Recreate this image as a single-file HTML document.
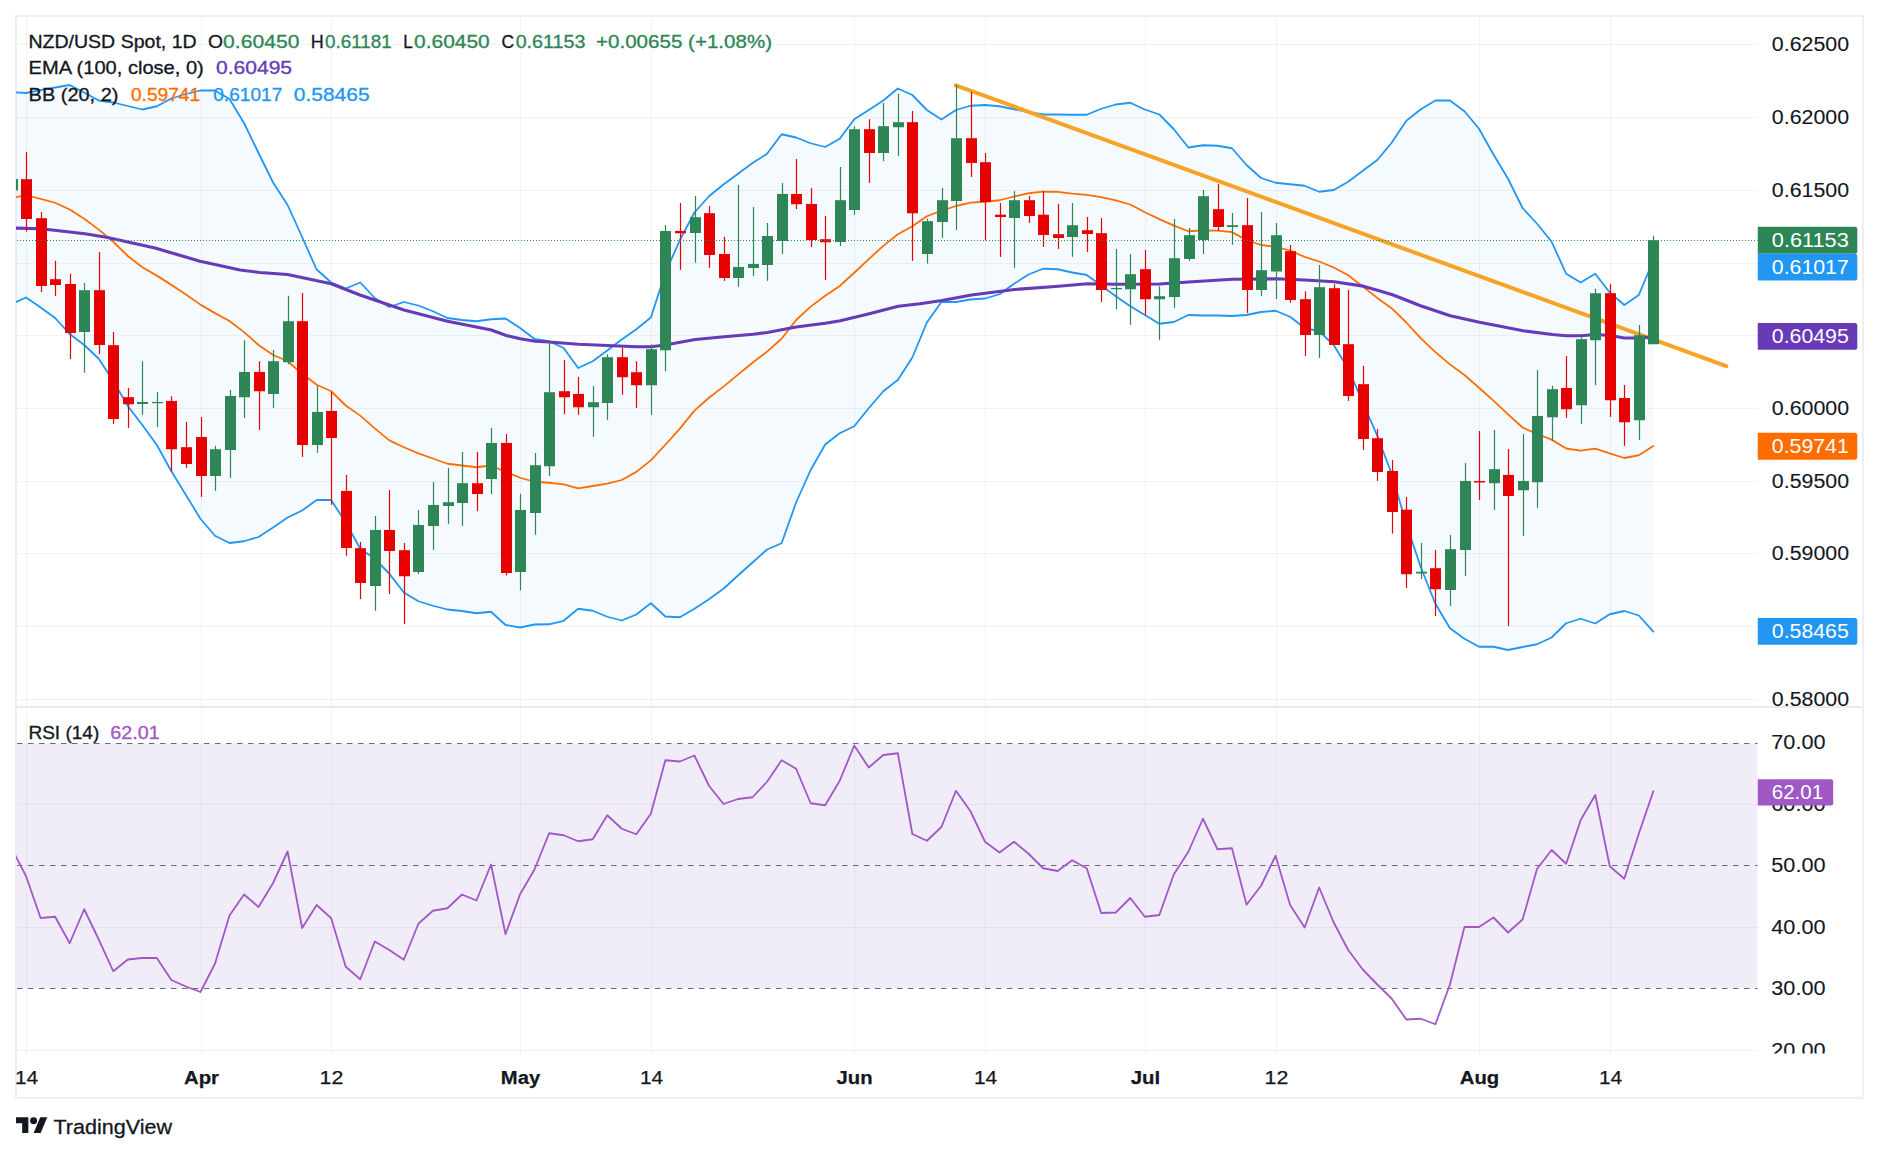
<!DOCTYPE html><html><head><meta charset="utf-8"><title>NZD/USD Spot 1D</title>
<style>html,body{margin:0;padding:0;background:#fff}body{width:1879px;height:1154px;overflow:hidden}svg{display:block}text{font-family:"Liberation Sans", Arial, sans-serif}</style></head><body>
<svg width="1879" height="1154" viewBox="0 0 1879 1154">
<rect width="1879" height="1154" fill="#fff"/>
<defs>
<clipPath id="cm"><rect x="16" y="17" width="1741.75" height="690"/></clipPath>
<clipPath id="cr"><rect x="16" y="707.75" width="1741.75" height="345.75"/></clipPath>
<clipPath id="ca"><rect x="1757.75" y="707.75" width="105" height="345.75"/></clipPath>
</defs>
<rect x="16" y="16" width="1847" height="1082" fill="none" stroke="#eeeff4" stroke-width="2"/>
<g stroke="#2a2e39" stroke-opacity="0.06" stroke-width="1">
<line x1="26.50" y1="17" x2="26.50" y2="1054"/>
<line x1="201.50" y1="17" x2="201.50" y2="1054"/>
<line x1="331.50" y1="17" x2="331.50" y2="1054"/>
<line x1="520.50" y1="17" x2="520.50" y2="1054"/>
<line x1="651.50" y1="17" x2="651.50" y2="1054"/>
<line x1="854.50" y1="17" x2="854.50" y2="1054"/>
<line x1="985.50" y1="17" x2="985.50" y2="1054"/>
<line x1="1145.50" y1="17" x2="1145.50" y2="1054"/>
<line x1="1276.50" y1="17" x2="1276.50" y2="1054"/>
<line x1="1479.50" y1="17" x2="1479.50" y2="1054"/>
<line x1="1610.50" y1="17" x2="1610.50" y2="1054"/>
<line x1="17" y1="44.50" x2="1757.75" y2="44.50"/>
<line x1="17" y1="117.50" x2="1757.75" y2="117.50"/>
<line x1="17" y1="190.50" x2="1757.75" y2="190.50"/>
<line x1="17" y1="263.50" x2="1757.75" y2="263.50"/>
<line x1="17" y1="335.50" x2="1757.75" y2="335.50"/>
<line x1="17" y1="408.50" x2="1757.75" y2="408.50"/>
<line x1="17" y1="481.50" x2="1757.75" y2="481.50"/>
<line x1="17" y1="553.50" x2="1757.75" y2="553.50"/>
<line x1="17" y1="626.50" x2="1757.75" y2="626.50"/>
<line x1="17" y1="699.50" x2="1757.75" y2="699.50"/>
<line x1="17" y1="804.50" x2="1757.75" y2="804.50"/>
<line x1="17" y1="927.50" x2="1757.75" y2="927.50"/>
<line x1="17" y1="1050.50" x2="1757.75" y2="1050.50"/>
</g>
<g clip-path="url(#cm)">
<polygon points="11.55,92.00 26.08,93.00 40.61,90.20 55.14,87.50 69.67,85.00 84.20,92.50 98.73,100.50 113.26,102.50 127.79,106.00 142.31,109.50 156.84,106.25 171.37,98.50 185.90,94.00 200.43,90.50 214.96,90.50 229.49,99.00 244.02,123.00 258.55,153.00 273.08,182.50 287.60,205.00 302.13,237.00 316.66,269.50 331.19,282.50 345.72,288.50 360.25,282.50 374.78,298.00 389.31,307.00 403.84,302.00 418.37,305.50 432.89,311.25 447.42,318.00 461.95,320.00 476.48,321.25 491.01,319.25 505.54,318.50 520.07,328.00 534.60,339.00 549.13,341.25 563.66,348.00 578.18,368.00 592.71,361.25 607.24,350.50 621.77,339.50 636.30,329.25 650.83,317.50 665.36,273.00 679.89,240.00 694.42,212.50 708.95,196.25 723.48,184.50 738.00,173.75 752.53,163.00 767.06,153.75 781.59,134.25 796.12,137.50 810.65,143.25 825.18,147.00 839.71,138.75 854.24,119.25 868.76,110.00 883.29,100.50 897.82,88.50 912.35,95.00 926.88,110.00 941.41,119.50 955.94,110.00 970.47,105.75 985.00,105.00 999.53,106.25 1014.05,109.25 1028.58,112.00 1043.11,114.50 1057.64,114.50 1072.17,114.75 1086.70,114.75 1101.23,108.75 1115.76,104.50 1130.29,102.75 1144.82,109.50 1159.35,114.50 1173.87,129.25 1188.40,147.50 1202.93,145.25 1217.46,145.75 1231.99,148.25 1246.52,165.00 1261.05,178.00 1275.58,182.75 1290.11,184.25 1304.63,185.75 1319.16,191.75 1333.69,190.00 1348.22,181.75 1362.75,170.75 1377.28,160.00 1391.81,142.50 1406.34,120.75 1420.87,109.25 1435.40,100.50 1449.93,100.50 1464.45,111.25 1478.98,128.75 1493.51,154.50 1508.04,178.75 1522.57,208.00 1537.10,223.75 1551.63,241.75 1566.16,273.75 1580.69,282.50 1595.22,273.75 1609.74,292.50 1624.27,305.00 1638.80,295.00 1653.33,260.30 1653.33,631.60 1638.80,615.50 1624.27,611.00 1609.74,614.25 1595.22,623.50 1580.69,618.75 1566.16,623.25 1551.63,637.50 1537.10,644.25 1522.57,647.00 1508.04,650.00 1493.51,646.75 1478.98,646.75 1464.45,638.75 1449.93,628.25 1435.40,603.75 1420.87,567.50 1406.34,524.25 1391.81,474.30 1377.28,435.80 1362.75,402.50 1348.22,368.75 1333.69,345.00 1319.16,331.25 1304.63,328.00 1290.11,316.75 1275.58,310.75 1261.05,312.00 1246.52,315.00 1231.99,316.00 1217.46,315.50 1202.93,315.50 1188.40,315.00 1173.87,322.00 1159.35,323.75 1144.82,315.00 1130.29,306.25 1115.76,296.25 1101.23,285.50 1086.70,275.00 1072.17,272.50 1057.64,269.25 1043.11,268.75 1028.58,274.50 1014.05,283.75 999.53,294.25 985.00,298.50 970.47,299.50 955.94,302.00 941.41,302.00 926.88,322.50 912.35,357.50 897.82,380.00 883.29,391.25 868.76,408.25 854.24,426.25 839.71,433.25 825.18,444.50 810.65,470.00 796.12,502.50 781.59,543.25 767.06,549.50 752.53,562.50 738.00,575.50 723.48,588.75 708.95,599.25 694.42,608.75 679.89,617.25 665.36,616.50 650.83,603.25 636.30,614.50 621.77,620.50 607.24,616.75 592.71,610.75 578.18,608.75 563.66,620.75 549.13,624.25 534.60,624.50 520.07,627.50 505.54,625.00 491.01,611.75 476.48,613.25 461.95,611.00 447.42,609.50 432.89,605.75 418.37,601.25 403.84,592.50 389.31,573.75 374.78,558.75 360.25,548.75 345.72,522.50 331.19,500.00 316.66,500.00 302.13,510.50 287.60,517.50 273.08,527.50 258.55,537.00 244.02,541.25 229.49,543.00 214.96,535.75 200.43,518.75 185.90,495.00 171.37,471.25 156.84,445.00 142.31,425.00 127.79,406.00 113.26,381.00 98.73,358.75 84.20,345.00 69.67,334.00 55.14,318.00 40.61,307.50 26.08,297.50 11.55,304.00" fill="#2196f3" fill-opacity="0.045"/>
<polyline points="11.55,198.00 26.08,195.25 40.61,198.85 55.14,202.75 69.67,209.50 84.20,218.75 98.73,229.62 113.26,241.75 127.79,256.00 142.31,267.25 156.84,275.62 171.37,284.88 185.90,294.50 200.43,304.62 214.96,313.12 229.49,321.00 244.02,332.12 258.55,345.00 273.08,355.00 287.60,361.25 302.13,373.75 316.66,384.75 331.19,391.25 345.72,405.50 360.25,415.62 374.78,428.38 389.31,440.38 403.84,447.25 418.37,453.38 432.89,458.50 447.42,463.75 461.95,465.50 476.48,467.25 491.01,465.50 505.54,471.75 520.07,477.75 534.60,481.75 549.13,482.75 563.66,484.38 578.18,488.38 592.71,486.00 607.24,483.62 621.77,480.00 636.30,471.88 650.83,460.38 665.36,444.75 679.89,428.62 694.42,410.62 708.95,397.75 723.48,386.62 738.00,374.62 752.53,362.75 767.06,351.62 781.59,338.75 796.12,320.00 810.65,306.62 825.18,295.75 839.71,286.00 854.24,272.75 868.76,259.12 883.29,245.88 897.82,234.25 912.35,226.25 926.88,216.25 941.41,210.75 955.94,206.00 970.47,202.62 985.00,201.75 999.53,200.25 1014.05,196.50 1028.58,193.25 1043.11,191.62 1057.64,191.88 1072.17,193.62 1086.70,194.88 1101.23,197.12 1115.76,200.38 1130.29,204.50 1144.82,212.25 1159.35,219.12 1173.87,225.62 1188.40,231.25 1202.93,230.38 1217.46,230.62 1231.99,232.12 1246.52,240.00 1261.05,245.00 1275.58,246.75 1290.11,250.50 1304.63,256.88 1319.16,261.50 1333.69,267.50 1348.22,275.25 1362.75,286.62 1377.28,297.90 1391.81,308.40 1406.34,322.50 1420.87,338.38 1435.40,352.12 1449.93,364.38 1464.45,375.00 1478.98,387.75 1493.51,400.62 1508.04,414.38 1522.57,427.50 1537.10,434.00 1551.63,439.62 1566.16,448.50 1580.69,450.62 1595.22,448.62 1609.74,453.38 1624.27,458.00 1638.80,455.25 1653.33,445.95" fill="none" stroke="#ff6d00" stroke-width="1.8" stroke-linejoin="round" stroke-linecap="round"/>
<polyline points="11.55,92.00 26.08,93.00 40.61,90.20 55.14,87.50 69.67,85.00 84.20,92.50 98.73,100.50 113.26,102.50 127.79,106.00 142.31,109.50 156.84,106.25 171.37,98.50 185.90,94.00 200.43,90.50 214.96,90.50 229.49,99.00 244.02,123.00 258.55,153.00 273.08,182.50 287.60,205.00 302.13,237.00 316.66,269.50 331.19,282.50 345.72,288.50 360.25,282.50 374.78,298.00 389.31,307.00 403.84,302.00 418.37,305.50 432.89,311.25 447.42,318.00 461.95,320.00 476.48,321.25 491.01,319.25 505.54,318.50 520.07,328.00 534.60,339.00 549.13,341.25 563.66,348.00 578.18,368.00 592.71,361.25 607.24,350.50 621.77,339.50 636.30,329.25 650.83,317.50 665.36,273.00 679.89,240.00 694.42,212.50 708.95,196.25 723.48,184.50 738.00,173.75 752.53,163.00 767.06,153.75 781.59,134.25 796.12,137.50 810.65,143.25 825.18,147.00 839.71,138.75 854.24,119.25 868.76,110.00 883.29,100.50 897.82,88.50 912.35,95.00 926.88,110.00 941.41,119.50 955.94,110.00 970.47,105.75 985.00,105.00 999.53,106.25 1014.05,109.25 1028.58,112.00 1043.11,114.50 1057.64,114.50 1072.17,114.75 1086.70,114.75 1101.23,108.75 1115.76,104.50 1130.29,102.75 1144.82,109.50 1159.35,114.50 1173.87,129.25 1188.40,147.50 1202.93,145.25 1217.46,145.75 1231.99,148.25 1246.52,165.00 1261.05,178.00 1275.58,182.75 1290.11,184.25 1304.63,185.75 1319.16,191.75 1333.69,190.00 1348.22,181.75 1362.75,170.75 1377.28,160.00 1391.81,142.50 1406.34,120.75 1420.87,109.25 1435.40,100.50 1449.93,100.50 1464.45,111.25 1478.98,128.75 1493.51,154.50 1508.04,178.75 1522.57,208.00 1537.10,223.75 1551.63,241.75 1566.16,273.75 1580.69,282.50 1595.22,273.75 1609.74,292.50 1624.27,305.00 1638.80,295.00 1653.33,260.30" fill="none" stroke="#2196f3" stroke-width="1.8" stroke-linejoin="round" stroke-linecap="round"/>
<polyline points="11.55,304.00 26.08,297.50 40.61,307.50 55.14,318.00 69.67,334.00 84.20,345.00 98.73,358.75 113.26,381.00 127.79,406.00 142.31,425.00 156.84,445.00 171.37,471.25 185.90,495.00 200.43,518.75 214.96,535.75 229.49,543.00 244.02,541.25 258.55,537.00 273.08,527.50 287.60,517.50 302.13,510.50 316.66,500.00 331.19,500.00 345.72,522.50 360.25,548.75 374.78,558.75 389.31,573.75 403.84,592.50 418.37,601.25 432.89,605.75 447.42,609.50 461.95,611.00 476.48,613.25 491.01,611.75 505.54,625.00 520.07,627.50 534.60,624.50 549.13,624.25 563.66,620.75 578.18,608.75 592.71,610.75 607.24,616.75 621.77,620.50 636.30,614.50 650.83,603.25 665.36,616.50 679.89,617.25 694.42,608.75 708.95,599.25 723.48,588.75 738.00,575.50 752.53,562.50 767.06,549.50 781.59,543.25 796.12,502.50 810.65,470.00 825.18,444.50 839.71,433.25 854.24,426.25 868.76,408.25 883.29,391.25 897.82,380.00 912.35,357.50 926.88,322.50 941.41,302.00 955.94,302.00 970.47,299.50 985.00,298.50 999.53,294.25 1014.05,283.75 1028.58,274.50 1043.11,268.75 1057.64,269.25 1072.17,272.50 1086.70,275.00 1101.23,285.50 1115.76,296.25 1130.29,306.25 1144.82,315.00 1159.35,323.75 1173.87,322.00 1188.40,315.00 1202.93,315.50 1217.46,315.50 1231.99,316.00 1246.52,315.00 1261.05,312.00 1275.58,310.75 1290.11,316.75 1304.63,328.00 1319.16,331.25 1333.69,345.00 1348.22,368.75 1362.75,402.50 1377.28,435.80 1391.81,474.30 1406.34,524.25 1420.87,567.50 1435.40,603.75 1449.93,628.25 1464.45,638.75 1478.98,646.75 1493.51,646.75 1508.04,650.00 1522.57,647.00 1537.10,644.25 1551.63,637.50 1566.16,623.25 1580.69,618.75 1595.22,623.50 1609.74,614.25 1624.27,611.00 1638.80,615.50 1653.33,631.60" fill="none" stroke="#2196f3" stroke-width="1.8" stroke-linejoin="round" stroke-linecap="round"/>
<line x1="955.75" y1="85.3" x2="1726.3" y2="366.2" stroke="#f7a328" stroke-width="4" stroke-linecap="round"/>
<polyline points="12.00,228.00 41.00,228.75 85.00,233.75 107.50,237.50 155.00,248.00 200.00,261.25 215.00,264.50 240.00,270.00 260.00,272.50 287.50,274.50 331.25,283.75 360.00,295.00 404.00,310.00 447.50,321.25 460.00,323.75 491.25,330.00 506.25,335.50 520.25,338.75 535.25,341.25 549.25,342.00 578.25,344.25 607.25,345.50 636.25,346.75 651.25,346.75 665.25,345.00 695.25,339.50 724.25,336.75 753.25,334.25 767.25,332.50 796.25,327.00 825.25,323.25 840.25,320.75 869.25,313.75 898.25,306.25 920.00,303.75 942.00,300.50 971.50,295.00 1014.50,289.50 1058.50,286.25 1087.50,283.75 1116.50,284.25 1159.50,284.00 1188.50,282.00 1232.50,279.25 1276.25,278.75 1305.00,280.00 1334.25,281.75 1363.25,286.20 1380.00,291.00 1392.50,294.80 1421.25,306.00 1450.25,315.75 1479.50,322.30 1523.25,330.75 1552.25,334.50 1566.25,335.75 1581.25,335.75 1595.25,334.50 1610.25,335.50 1624.25,338.00 1639.25,338.00 1653.80,336.80" fill="none" stroke="#673ab7" stroke-width="3.2" stroke-linejoin="round" stroke-linecap="round"/>
<rect x="11.90" y="178.75" width="1.2" height="11.75" fill="#2e8656"/>
<rect x="7.00" y="178.95" width="11" height="11.55" fill="#2e8656"/>
<rect x="25.90" y="151.75" width="1.2" height="79.85" fill="#e60000"/>
<rect x="21.00" y="179.20" width="11" height="39.80" fill="#e60000"/>
<rect x="40.90" y="212.00" width="1.2" height="80.10" fill="#e60000"/>
<rect x="36.00" y="218.20" width="11" height="67.80" fill="#e60000"/>
<rect x="54.90" y="260.75" width="1.2" height="35.10" fill="#e60000"/>
<rect x="50.00" y="279.20" width="11" height="5.80" fill="#e60000"/>
<rect x="69.90" y="273.75" width="1.2" height="85.35" fill="#e60000"/>
<rect x="65.00" y="283.95" width="11" height="49.05" fill="#e60000"/>
<rect x="83.90" y="283.00" width="1.2" height="89.85" fill="#2e8656"/>
<rect x="79.00" y="290.20" width="11" height="41.80" fill="#2e8656"/>
<rect x="98.90" y="252.00" width="1.2" height="102.10" fill="#e60000"/>
<rect x="94.00" y="290.20" width="11" height="54.80" fill="#e60000"/>
<rect x="112.90" y="332.00" width="1.2" height="92.10" fill="#e60000"/>
<rect x="108.00" y="345.20" width="11" height="73.80" fill="#e60000"/>
<rect x="127.90" y="388.00" width="1.2" height="39.85" fill="#e60000"/>
<rect x="123.00" y="397.20" width="11" height="7.05" fill="#e60000"/>
<rect x="141.90" y="361.25" width="1.2" height="53.60" fill="#2e8656"/>
<rect x="137.00" y="401.95" width="11" height="2.05" fill="#2e8656"/>
<rect x="156.90" y="392.00" width="1.2" height="35.10" fill="#2e8656"/>
<rect x="152.00" y="401.95" width="11" height="1.30" fill="#2e8656"/>
<rect x="170.90" y="396.25" width="1.2" height="75.35" fill="#e60000"/>
<rect x="166.00" y="400.95" width="11" height="48.30" fill="#e60000"/>
<rect x="185.90" y="421.75" width="1.2" height="46.10" fill="#e60000"/>
<rect x="181.00" y="447.20" width="11" height="16.80" fill="#e60000"/>
<rect x="200.90" y="417.00" width="1.2" height="79.85" fill="#e60000"/>
<rect x="196.00" y="436.95" width="11" height="39.05" fill="#e60000"/>
<rect x="214.90" y="445.75" width="1.2" height="45.10" fill="#2e8656"/>
<rect x="210.00" y="449.20" width="11" height="26.80" fill="#2e8656"/>
<rect x="229.90" y="390.00" width="1.2" height="87.85" fill="#2e8656"/>
<rect x="225.00" y="395.95" width="11" height="54.05" fill="#2e8656"/>
<rect x="243.90" y="340.25" width="1.2" height="77.60" fill="#2e8656"/>
<rect x="239.00" y="371.95" width="11" height="25.30" fill="#2e8656"/>
<rect x="258.90" y="361.25" width="1.2" height="68.60" fill="#e60000"/>
<rect x="254.00" y="371.95" width="11" height="19.30" fill="#e60000"/>
<rect x="272.90" y="350.00" width="1.2" height="57.85" fill="#2e8656"/>
<rect x="268.00" y="361.20" width="11" height="32.80" fill="#2e8656"/>
<rect x="287.90" y="295.75" width="1.2" height="68.35" fill="#2e8656"/>
<rect x="283.00" y="321.20" width="11" height="41.05" fill="#2e8656"/>
<rect x="301.90" y="293.00" width="1.2" height="163.85" fill="#e60000"/>
<rect x="297.00" y="321.20" width="11" height="123.80" fill="#e60000"/>
<rect x="316.90" y="385.50" width="1.2" height="67.35" fill="#2e8656"/>
<rect x="312.00" y="411.95" width="11" height="33.05" fill="#2e8656"/>
<rect x="330.90" y="392.00" width="1.2" height="112.85" fill="#e60000"/>
<rect x="326.00" y="410.95" width="11" height="27.05" fill="#e60000"/>
<rect x="345.90" y="475.00" width="1.2" height="80.85" fill="#e60000"/>
<rect x="341.00" y="490.95" width="11" height="57.05" fill="#e60000"/>
<rect x="359.90" y="542.00" width="1.2" height="57.10" fill="#e60000"/>
<rect x="355.00" y="548.20" width="11" height="34.80" fill="#e60000"/>
<rect x="374.90" y="516.00" width="1.2" height="94.85" fill="#2e8656"/>
<rect x="370.00" y="529.95" width="11" height="56.05" fill="#2e8656"/>
<rect x="388.90" y="490.00" width="1.2" height="104.10" fill="#e60000"/>
<rect x="384.00" y="529.95" width="11" height="21.05" fill="#e60000"/>
<rect x="403.90" y="543.00" width="1.2" height="81.10" fill="#e60000"/>
<rect x="399.00" y="550.20" width="11" height="26.05" fill="#e60000"/>
<rect x="417.90" y="510.00" width="1.2" height="64.10" fill="#2e8656"/>
<rect x="413.00" y="524.95" width="11" height="47.05" fill="#2e8656"/>
<rect x="432.90" y="482.00" width="1.2" height="67.85" fill="#2e8656"/>
<rect x="428.00" y="504.95" width="11" height="21.05" fill="#2e8656"/>
<rect x="447.90" y="468.00" width="1.2" height="55.85" fill="#2e8656"/>
<rect x="443.00" y="502.20" width="11" height="3.80" fill="#2e8656"/>
<rect x="461.90" y="452.00" width="1.2" height="73.85" fill="#2e8656"/>
<rect x="457.00" y="483.20" width="11" height="19.80" fill="#2e8656"/>
<rect x="476.90" y="452.00" width="1.2" height="59.10" fill="#e60000"/>
<rect x="472.00" y="483.20" width="11" height="10.80" fill="#e60000"/>
<rect x="490.90" y="428.00" width="1.2" height="66.10" fill="#2e8656"/>
<rect x="486.00" y="442.95" width="11" height="36.05" fill="#2e8656"/>
<rect x="505.90" y="434.00" width="1.2" height="141.35" fill="#e60000"/>
<rect x="501.00" y="442.95" width="11" height="130.05" fill="#e60000"/>
<rect x="519.90" y="493.75" width="1.2" height="96.60" fill="#2e8656"/>
<rect x="515.00" y="509.95" width="11" height="62.05" fill="#2e8656"/>
<rect x="534.90" y="453.00" width="1.2" height="81.85" fill="#2e8656"/>
<rect x="530.00" y="465.20" width="11" height="47.80" fill="#2e8656"/>
<rect x="548.90" y="340.75" width="1.2" height="135.35" fill="#2e8656"/>
<rect x="544.00" y="392.20" width="11" height="74.05" fill="#2e8656"/>
<rect x="563.90" y="360.00" width="1.2" height="54.10" fill="#e60000"/>
<rect x="559.00" y="391.20" width="11" height="6.05" fill="#e60000"/>
<rect x="577.90" y="377.00" width="1.2" height="37.85" fill="#e60000"/>
<rect x="573.00" y="393.95" width="11" height="13.30" fill="#e60000"/>
<rect x="592.90" y="386.00" width="1.2" height="50.85" fill="#2e8656"/>
<rect x="588.00" y="402.20" width="11" height="5.05" fill="#2e8656"/>
<rect x="606.90" y="354.25" width="1.2" height="65.60" fill="#2e8656"/>
<rect x="602.00" y="357.20" width="11" height="45.80" fill="#2e8656"/>
<rect x="621.90" y="348.00" width="1.2" height="46.85" fill="#e60000"/>
<rect x="617.00" y="357.20" width="11" height="20.05" fill="#e60000"/>
<rect x="635.90" y="361.25" width="1.2" height="46.60" fill="#e60000"/>
<rect x="631.00" y="372.20" width="11" height="13.05" fill="#e60000"/>
<rect x="650.90" y="344.25" width="1.2" height="70.60" fill="#2e8656"/>
<rect x="646.00" y="349.20" width="11" height="36.05" fill="#2e8656"/>
<rect x="664.90" y="225.00" width="1.2" height="146.10" fill="#2e8656"/>
<rect x="660.00" y="230.95" width="11" height="119.30" fill="#2e8656"/>
<rect x="679.90" y="203.00" width="1.2" height="66.85" fill="#e60000"/>
<rect x="675.00" y="230.95" width="11" height="2.30" fill="#e60000"/>
<rect x="694.90" y="196.00" width="1.2" height="66.85" fill="#2e8656"/>
<rect x="690.00" y="217.20" width="11" height="15.80" fill="#2e8656"/>
<rect x="708.90" y="206.00" width="1.2" height="61.85" fill="#e60000"/>
<rect x="704.00" y="213.20" width="11" height="41.80" fill="#e60000"/>
<rect x="723.90" y="236.75" width="1.2" height="44.10" fill="#e60000"/>
<rect x="719.00" y="253.95" width="11" height="24.05" fill="#e60000"/>
<rect x="737.90" y="185.00" width="1.2" height="101.85" fill="#2e8656"/>
<rect x="733.00" y="266.95" width="11" height="11.05" fill="#2e8656"/>
<rect x="752.90" y="207.00" width="1.2" height="69.10" fill="#2e8656"/>
<rect x="748.00" y="263.95" width="11" height="4.05" fill="#2e8656"/>
<rect x="766.90" y="223.00" width="1.2" height="57.85" fill="#2e8656"/>
<rect x="762.00" y="235.95" width="11" height="29.05" fill="#2e8656"/>
<rect x="781.90" y="183.00" width="1.2" height="71.10" fill="#2e8656"/>
<rect x="777.00" y="193.95" width="11" height="47.05" fill="#2e8656"/>
<rect x="795.90" y="159.00" width="1.2" height="50.10" fill="#e60000"/>
<rect x="791.00" y="193.95" width="11" height="10.30" fill="#e60000"/>
<rect x="810.90" y="188.00" width="1.2" height="59.10" fill="#e60000"/>
<rect x="806.00" y="203.95" width="11" height="36.05" fill="#e60000"/>
<rect x="824.90" y="216.00" width="1.2" height="63.85" fill="#e60000"/>
<rect x="820.00" y="239.20" width="11" height="3.05" fill="#e60000"/>
<rect x="839.90" y="167.00" width="1.2" height="79.10" fill="#2e8656"/>
<rect x="835.00" y="200.20" width="11" height="41.80" fill="#2e8656"/>
<rect x="853.90" y="126.25" width="1.2" height="88.60" fill="#2e8656"/>
<rect x="849.00" y="129.20" width="11" height="80.80" fill="#2e8656"/>
<rect x="868.90" y="119.25" width="1.2" height="63.60" fill="#e60000"/>
<rect x="864.00" y="129.20" width="11" height="23.80" fill="#e60000"/>
<rect x="882.90" y="103.00" width="1.2" height="58.10" fill="#2e8656"/>
<rect x="878.00" y="126.20" width="11" height="26.80" fill="#2e8656"/>
<rect x="897.90" y="94.00" width="1.2" height="61.85" fill="#2e8656"/>
<rect x="893.00" y="122.20" width="11" height="5.05" fill="#2e8656"/>
<rect x="911.90" y="111.00" width="1.2" height="149.85" fill="#e60000"/>
<rect x="907.00" y="122.20" width="11" height="91.05" fill="#e60000"/>
<rect x="926.90" y="218.75" width="1.2" height="44.85" fill="#2e8656"/>
<rect x="922.00" y="221.20" width="11" height="32.80" fill="#2e8656"/>
<rect x="941.90" y="188.00" width="1.2" height="49.85" fill="#2e8656"/>
<rect x="937.00" y="200.20" width="11" height="21.80" fill="#2e8656"/>
<rect x="955.90" y="85.00" width="1.2" height="144.85" fill="#2e8656"/>
<rect x="951.00" y="138.20" width="11" height="62.80" fill="#2e8656"/>
<rect x="970.90" y="92.00" width="1.2" height="84.85" fill="#e60000"/>
<rect x="966.00" y="138.20" width="11" height="24.80" fill="#e60000"/>
<rect x="984.90" y="153.00" width="1.2" height="87.35" fill="#e60000"/>
<rect x="980.00" y="162.20" width="11" height="39.80" fill="#e60000"/>
<rect x="999.90" y="203.00" width="1.2" height="53.85" fill="#e60000"/>
<rect x="995.00" y="214.70" width="11" height="2.30" fill="#e60000"/>
<rect x="1013.90" y="191.00" width="1.2" height="76.85" fill="#2e8656"/>
<rect x="1009.00" y="200.20" width="11" height="17.80" fill="#2e8656"/>
<rect x="1028.90" y="196.00" width="1.2" height="26.85" fill="#e60000"/>
<rect x="1024.00" y="200.20" width="11" height="15.80" fill="#e60000"/>
<rect x="1042.90" y="191.00" width="1.2" height="55.85" fill="#e60000"/>
<rect x="1038.00" y="214.70" width="11" height="20.30" fill="#e60000"/>
<rect x="1057.90" y="204.00" width="1.2" height="44.85" fill="#e60000"/>
<rect x="1053.00" y="234.20" width="11" height="3.80" fill="#e60000"/>
<rect x="1071.90" y="203.00" width="1.2" height="53.85" fill="#2e8656"/>
<rect x="1067.00" y="225.20" width="11" height="11.80" fill="#2e8656"/>
<rect x="1086.90" y="217.00" width="1.2" height="34.85" fill="#e60000"/>
<rect x="1082.00" y="230.20" width="11" height="3.80" fill="#e60000"/>
<rect x="1100.90" y="218.00" width="1.2" height="84.10" fill="#e60000"/>
<rect x="1096.00" y="233.20" width="11" height="56.80" fill="#e60000"/>
<rect x="1115.90" y="249.00" width="1.2" height="60.10" fill="#2e8656"/>
<rect x="1111.00" y="287.95" width="11" height="1.30" fill="#2e8656"/>
<rect x="1129.90" y="254.00" width="1.2" height="70.85" fill="#2e8656"/>
<rect x="1125.00" y="274.20" width="11" height="15.05" fill="#2e8656"/>
<rect x="1144.90" y="250.00" width="1.2" height="64.85" fill="#e60000"/>
<rect x="1140.00" y="269.20" width="11" height="30.05" fill="#e60000"/>
<rect x="1158.90" y="286.25" width="1.2" height="53.60" fill="#2e8656"/>
<rect x="1154.00" y="296.20" width="11" height="3.05" fill="#2e8656"/>
<rect x="1173.90" y="219.00" width="1.2" height="88.85" fill="#2e8656"/>
<rect x="1169.00" y="258.20" width="11" height="38.80" fill="#2e8656"/>
<rect x="1188.90" y="228.00" width="1.2" height="32.85" fill="#2e8656"/>
<rect x="1184.00" y="235.20" width="11" height="23.80" fill="#2e8656"/>
<rect x="1202.90" y="190.00" width="1.2" height="63.85" fill="#2e8656"/>
<rect x="1198.00" y="196.20" width="11" height="43.80" fill="#2e8656"/>
<rect x="1217.90" y="184.00" width="1.2" height="46.85" fill="#e60000"/>
<rect x="1213.00" y="209.20" width="11" height="17.80" fill="#e60000"/>
<rect x="1231.90" y="213.00" width="1.2" height="31.85" fill="#2e8656"/>
<rect x="1227.00" y="225.20" width="11" height="1.80" fill="#2e8656"/>
<rect x="1246.90" y="198.00" width="1.2" height="114.85" fill="#e60000"/>
<rect x="1242.00" y="225.20" width="11" height="64.80" fill="#e60000"/>
<rect x="1260.90" y="212.00" width="1.2" height="84.10" fill="#2e8656"/>
<rect x="1256.00" y="270.20" width="11" height="19.80" fill="#2e8656"/>
<rect x="1275.90" y="223.00" width="1.2" height="76.10" fill="#2e8656"/>
<rect x="1271.00" y="235.20" width="11" height="36.30" fill="#2e8656"/>
<rect x="1289.90" y="245.00" width="1.2" height="57.85" fill="#e60000"/>
<rect x="1285.00" y="251.20" width="11" height="48.80" fill="#e60000"/>
<rect x="1304.90" y="291.25" width="1.2" height="64.60" fill="#e60000"/>
<rect x="1300.00" y="299.20" width="11" height="35.80" fill="#e60000"/>
<rect x="1318.90" y="265.00" width="1.2" height="92.85" fill="#2e8656"/>
<rect x="1314.00" y="287.20" width="11" height="47.80" fill="#2e8656"/>
<rect x="1333.90" y="284.25" width="1.2" height="60.75" fill="#e60000"/>
<rect x="1329.00" y="288.20" width="11" height="56.80" fill="#e60000"/>
<rect x="1347.90" y="290.00" width="1.2" height="110.85" fill="#e60000"/>
<rect x="1343.00" y="344.20" width="11" height="51.80" fill="#e60000"/>
<rect x="1362.90" y="365.75" width="1.2" height="84.10" fill="#e60000"/>
<rect x="1358.00" y="384.20" width="11" height="54.80" fill="#e60000"/>
<rect x="1376.90" y="429.00" width="1.2" height="51.85" fill="#e60000"/>
<rect x="1372.00" y="438.20" width="11" height="33.80" fill="#e60000"/>
<rect x="1391.90" y="460.00" width="1.2" height="73.60" fill="#e60000"/>
<rect x="1387.00" y="470.95" width="11" height="41.05" fill="#e60000"/>
<rect x="1405.90" y="497.00" width="1.2" height="90.85" fill="#e60000"/>
<rect x="1401.00" y="509.70" width="11" height="64.55" fill="#e60000"/>
<rect x="1420.90" y="543.00" width="1.2" height="36.10" fill="#2e8656"/>
<rect x="1416.00" y="571.70" width="11" height="1.80" fill="#2e8656"/>
<rect x="1434.90" y="550.00" width="1.2" height="66.10" fill="#e60000"/>
<rect x="1430.00" y="568.20" width="11" height="21.05" fill="#e60000"/>
<rect x="1449.90" y="535.00" width="1.2" height="70.85" fill="#2e8656"/>
<rect x="1445.00" y="549.20" width="11" height="40.80" fill="#2e8656"/>
<rect x="1464.90" y="463.00" width="1.2" height="113.10" fill="#2e8656"/>
<rect x="1460.00" y="480.95" width="11" height="69.05" fill="#2e8656"/>
<rect x="1478.90" y="431.00" width="1.2" height="68.85" fill="#e60000"/>
<rect x="1474.00" y="480.95" width="11" height="1.55" fill="#e60000"/>
<rect x="1493.90" y="430.00" width="1.2" height="79.85" fill="#2e8656"/>
<rect x="1489.00" y="469.20" width="11" height="14.05" fill="#2e8656"/>
<rect x="1507.90" y="449.00" width="1.2" height="177.10" fill="#e60000"/>
<rect x="1503.00" y="474.95" width="11" height="21.05" fill="#e60000"/>
<rect x="1522.90" y="434.00" width="1.2" height="101.85" fill="#2e8656"/>
<rect x="1518.00" y="480.95" width="11" height="9.30" fill="#2e8656"/>
<rect x="1536.90" y="370.00" width="1.2" height="137.85" fill="#2e8656"/>
<rect x="1532.00" y="415.95" width="11" height="66.30" fill="#2e8656"/>
<rect x="1551.90" y="385.75" width="1.2" height="55.10" fill="#2e8656"/>
<rect x="1547.00" y="389.20" width="11" height="28.05" fill="#2e8656"/>
<rect x="1565.90" y="356.00" width="1.2" height="61.85" fill="#e60000"/>
<rect x="1561.00" y="387.95" width="11" height="21.30" fill="#e60000"/>
<rect x="1580.90" y="337.50" width="1.2" height="86.35" fill="#2e8656"/>
<rect x="1576.00" y="339.20" width="11" height="66.05" fill="#2e8656"/>
<rect x="1594.90" y="288.75" width="1.2" height="96.35" fill="#2e8656"/>
<rect x="1590.00" y="293.20" width="11" height="47.05" fill="#2e8656"/>
<rect x="1609.90" y="283.75" width="1.2" height="133.10" fill="#e60000"/>
<rect x="1605.00" y="293.20" width="11" height="107.05" fill="#e60000"/>
<rect x="1623.90" y="385.00" width="1.2" height="60.85" fill="#e60000"/>
<rect x="1619.00" y="397.95" width="11" height="24.30" fill="#e60000"/>
<rect x="1638.90" y="325.00" width="1.2" height="114.85" fill="#2e8656"/>
<rect x="1634.00" y="335.20" width="11" height="85.05" fill="#2e8656"/>
<rect x="1652.90" y="235.75" width="1.2" height="108.50" fill="#2e8656"/>
<rect x="1648.00" y="240.20" width="11" height="104.05" fill="#2e8656"/>
<line x1="17" y1="240.5" x2="1757.75" y2="240.5" stroke="#2e8656" stroke-width="1" stroke-dasharray="1 2"/>
</g>
<g clip-path="url(#cr)">
<rect x="17" y="743.5" width="1740.75" height="245.0" fill="#7e57c2" fill-opacity="0.11"/>
<line x1="17" y1="743.5" x2="1757.75" y2="743.5" stroke="#686b76" stroke-width="1.15" stroke-dasharray="5.5 5.5"/>
<line x1="17" y1="865.5" x2="1757.75" y2="865.5" stroke="#686b76" stroke-width="1.15" stroke-dasharray="5.5 5.5"/>
<line x1="17" y1="988.5" x2="1757.75" y2="988.5" stroke="#686b76" stroke-width="1.15" stroke-dasharray="5.5 5.5"/>
<polyline points="11.55,848.00 26.08,876.25 40.61,918.00 55.14,916.75 69.67,943.25 84.20,909.25 98.73,939.50 113.26,971.25 127.79,959.50 142.31,958.00 156.84,958.00 171.37,980.00 185.90,986.50 200.43,992.00 214.96,963.75 229.49,915.50 244.02,894.50 258.55,907.00 273.08,883.00 287.60,851.50 302.13,928.00 316.66,905.00 331.19,918.25 345.72,966.75 360.25,979.25 374.78,941.50 389.31,950.00 403.84,959.75 418.37,923.75 432.89,910.75 447.42,908.25 461.95,894.50 476.48,900.50 491.01,864.50 505.54,934.25 520.07,894.25 534.60,869.25 549.13,833.25 563.66,835.25 578.18,841.25 592.71,839.25 607.24,815.25 621.77,828.75 636.30,834.25 650.83,813.75 665.36,760.25 679.89,761.50 694.42,755.50 708.95,785.75 723.48,804.00 738.00,799.00 752.53,797.25 767.06,781.75 781.59,760.25 796.12,768.75 810.65,803.25 825.18,805.25 839.71,780.75 854.24,745.50 868.76,767.50 883.29,755.00 897.82,753.25 912.35,834.00 926.88,840.75 941.41,827.00 955.94,790.75 970.47,811.25 985.00,841.75 999.53,852.50 1014.05,841.75 1028.58,853.75 1043.11,868.25 1057.64,871.00 1072.17,860.25 1086.70,868.25 1101.23,913.00 1115.76,912.50 1130.29,898.00 1144.82,916.75 1159.35,915.00 1173.87,874.25 1188.40,851.75 1202.93,818.75 1217.46,849.25 1231.99,848.25 1246.52,904.75 1261.05,885.75 1275.58,855.75 1290.11,905.00 1304.63,927.50 1319.16,887.50 1333.69,922.50 1348.22,950.00 1362.75,969.50 1377.28,984.50 1391.81,998.75 1406.34,1019.50 1420.87,1018.75 1435.40,1024.25 1449.93,984.50 1464.45,927.00 1478.98,927.00 1493.51,917.50 1508.04,932.50 1522.57,919.50 1537.10,868.75 1551.63,850.00 1566.16,863.75 1580.69,820.00 1595.22,795.00 1609.74,866.25 1624.27,878.75 1638.80,833.75 1653.33,791.25" fill="none" stroke="#a058c4" stroke-width="1.8" stroke-linejoin="round" stroke-linecap="round"/>
</g>
<line x1="17" y1="707" x2="1862" y2="707" stroke="#e0e3eb" stroke-width="1.4"/>
<text x="28.4" y="47.6" font-size="17.8" fill="#131722" textLength="168.3" lengthAdjust="spacingAndGlyphs" stroke="#131722" stroke-width="0.3" >NZD/USD Spot, 1D</text>
<text x="207.9" y="47.6" font-size="17.8" fill="#131722" textLength="15" lengthAdjust="spacingAndGlyphs" stroke="#131722" stroke-width="0.3" >O</text>
<text x="223.1" y="47.6" font-size="17.8" fill="#2e8656" textLength="76.3" lengthAdjust="spacingAndGlyphs" stroke="#2e8656" stroke-width="0.3" >0.60450</text>
<text x="310.8" y="47.6" font-size="17.8" fill="#131722" textLength="13" lengthAdjust="spacingAndGlyphs" stroke="#131722" stroke-width="0.3" >H</text>
<text x="325" y="47.6" font-size="17.8" fill="#2e8656" textLength="66.65" lengthAdjust="spacingAndGlyphs" stroke="#2e8656" stroke-width="0.3" >0.61181</text>
<text x="403.2" y="47.6" font-size="17.8" fill="#131722" textLength="9.5" lengthAdjust="spacingAndGlyphs" stroke="#131722" stroke-width="0.3" >L</text>
<text x="414.1" y="47.6" font-size="17.8" fill="#2e8656" textLength="75.6" lengthAdjust="spacingAndGlyphs" stroke="#2e8656" stroke-width="0.3" >0.60450</text>
<text x="501.5" y="47.6" font-size="17.8" fill="#131722" textLength="12.6" lengthAdjust="spacingAndGlyphs" stroke="#131722" stroke-width="0.3" >C</text>
<text x="515.65" y="47.6" font-size="17.8" fill="#2e8656" textLength="69.7" lengthAdjust="spacingAndGlyphs" stroke="#2e8656" stroke-width="0.3" >0.61153</text>
<text x="596" y="47.6" font-size="17.8" fill="#2e8656" textLength="176.1" lengthAdjust="spacingAndGlyphs" stroke="#2e8656" stroke-width="0.3" >+0.00655 (+1.08%)</text>
<text x="28.6" y="74.2" font-size="17.8" fill="#131722" textLength="175.2" lengthAdjust="spacingAndGlyphs" stroke="#131722" stroke-width="0.3" >EMA (100, close, 0)</text>
<text x="216.05" y="74.2" font-size="17.8" fill="#673ab7" textLength="76" lengthAdjust="spacingAndGlyphs" stroke="#673ab7" stroke-width="0.3" >0.60495</text>
<text x="28.6" y="101.2" font-size="17.8" fill="#131722" textLength="89.8" lengthAdjust="spacingAndGlyphs" stroke="#131722" stroke-width="0.3" >BB (20, 2)</text>
<text x="130.95" y="101.2" font-size="17.8" fill="#ff6d00" textLength="69.2" lengthAdjust="spacingAndGlyphs" stroke="#ff6d00" stroke-width="0.3" >0.59741</text>
<text x="213.25" y="101.2" font-size="17.8" fill="#2196f3" textLength="69" lengthAdjust="spacingAndGlyphs" stroke="#2196f3" stroke-width="0.3" >0.61017</text>
<text x="293.8" y="101.2" font-size="17.8" fill="#2196f3" textLength="75.8" lengthAdjust="spacingAndGlyphs" stroke="#2196f3" stroke-width="0.3" >0.58465</text>
<text x="28.4" y="739.3" font-size="17.8" fill="#131722" textLength="70.9" lengthAdjust="spacingAndGlyphs" stroke="#131722" stroke-width="0.3" >RSI (14)</text>
<text x="110.35" y="739.3" font-size="17.8" fill="#a058c4" textLength="49.25" lengthAdjust="spacingAndGlyphs" stroke="#a058c4" stroke-width="0.3" >62.01</text>
<text x="1771.8" y="51.300000000000004" font-size="20.3" fill="#131722" textLength="77.3" lengthAdjust="spacingAndGlyphs" stroke="#131722" stroke-width="0.12" >0.62500</text>
<text x="1771.8" y="124.35000000000001" font-size="20.3" fill="#131722" textLength="77.3" lengthAdjust="spacingAndGlyphs" stroke="#131722" stroke-width="0.12" >0.62000</text>
<text x="1771.8" y="197.35" font-size="20.3" fill="#131722" textLength="77.3" lengthAdjust="spacingAndGlyphs" stroke="#131722" stroke-width="0.12" >0.61500</text>
<text x="1771.8" y="415.4" font-size="20.3" fill="#131722" textLength="77.3" lengthAdjust="spacingAndGlyphs" stroke="#131722" stroke-width="0.12" >0.60000</text>
<text x="1771.8" y="487.59999999999997" font-size="20.3" fill="#131722" textLength="77.3" lengthAdjust="spacingAndGlyphs" stroke="#131722" stroke-width="0.12" >0.59500</text>
<text x="1771.8" y="560.35" font-size="20.3" fill="#131722" textLength="77.3" lengthAdjust="spacingAndGlyphs" stroke="#131722" stroke-width="0.12" >0.59000</text>
<text x="1771.8" y="705.5" font-size="20.3" fill="#131722" textLength="77.3" lengthAdjust="spacingAndGlyphs" stroke="#131722" stroke-width="0.12" >0.58000</text>
<path d="M1757.75 226.75H1854.8a2.5 2.5 0 0 1 2.5 2.5V251.25a2.5 2.5 0 0 1 -2.5 2.5H1757.75Z" fill="#2e8656"/>
<text x="1771.8" y="247.15" font-size="20.3" fill="#fff" textLength="77" lengthAdjust="spacingAndGlyphs" >0.61153</text>
<path d="M1757.75 253.75H1854.8a2.5 2.5 0 0 1 2.5 2.5V278.0a2.5 2.5 0 0 1 -2.5 2.5H1757.75Z" fill="#2196f3"/>
<text x="1771.8" y="274.025" font-size="20.3" fill="#fff" textLength="77" lengthAdjust="spacingAndGlyphs" >0.61017</text>
<path d="M1757.75 323H1854.8a2.5 2.5 0 0 1 2.5 2.5V347.25a2.5 2.5 0 0 1 -2.5 2.5H1757.75Z" fill="#673ab7"/>
<text x="1771.8" y="343.275" font-size="20.3" fill="#fff" textLength="77" lengthAdjust="spacingAndGlyphs" >0.60495</text>
<path d="M1757.75 432.75H1854.8a2.5 2.5 0 0 1 2.5 2.5V457.25a2.5 2.5 0 0 1 -2.5 2.5H1757.75Z" fill="#ff6d00"/>
<text x="1771.8" y="453.15" font-size="20.3" fill="#fff" textLength="77" lengthAdjust="spacingAndGlyphs" >0.59741</text>
<path d="M1757.75 618H1854.8a2.5 2.5 0 0 1 2.5 2.5V642.25a2.5 2.5 0 0 1 -2.5 2.5H1757.75Z" fill="#2196f3"/>
<text x="1771.8" y="638.275" font-size="20.3" fill="#fff" textLength="77" lengthAdjust="spacingAndGlyphs" >0.58465</text>
<g clip-path="url(#ca)">
<text x="1771.3" y="749.2" font-size="20.3" fill="#131722" textLength="54.3" lengthAdjust="spacingAndGlyphs" stroke="#131722" stroke-width="0.12" >70.00</text>
<text x="1771.3" y="810.8000000000001" font-size="20.3" fill="#131722" textLength="54.3" lengthAdjust="spacingAndGlyphs" stroke="#131722" stroke-width="0.12" >60.00</text>
<text x="1771.3" y="872.4000000000001" font-size="20.3" fill="#131722" textLength="54.3" lengthAdjust="spacingAndGlyphs" stroke="#131722" stroke-width="0.12" >50.00</text>
<text x="1771.3" y="933.9000000000001" font-size="20.3" fill="#131722" textLength="54.3" lengthAdjust="spacingAndGlyphs" stroke="#131722" stroke-width="0.12" >40.00</text>
<text x="1771.3" y="995.4000000000001" font-size="20.3" fill="#131722" textLength="54.3" lengthAdjust="spacingAndGlyphs" stroke="#131722" stroke-width="0.12" >30.00</text>
<text x="1771.3" y="1056.8" font-size="20.3" fill="#131722" textLength="54.3" lengthAdjust="spacingAndGlyphs" stroke="#131722" stroke-width="0.12" >20.00</text>
</g>
<path d="M1757.75 779.2H1830.7a2.5 2.5 0 0 1 2.5 2.5V803.1a2.5 2.5 0 0 1 -2.5 2.5H1757.75Z" fill="#a058c4"/>
<text x="1771.8" y="799.3000000000001" font-size="20.3" fill="#fff" textLength="51.3" lengthAdjust="spacingAndGlyphs" >62.01</text>
<text x="26.5" y="1084" font-size="19.1" fill="#131722" textLength="23.2" lengthAdjust="spacingAndGlyphs" text-anchor="middle" stroke="#131722" stroke-width="0.25" >14</text>
<text x="201.5" y="1084" font-size="19.1" fill="#131722" textLength="35.0" lengthAdjust="spacingAndGlyphs" font-weight="bold" text-anchor="middle" stroke="#131722" stroke-width="0.25" >Apr</text>
<text x="331.5" y="1084" font-size="19.1" fill="#131722" textLength="23.8" lengthAdjust="spacingAndGlyphs" text-anchor="middle" stroke="#131722" stroke-width="0.25" >12</text>
<text x="520.5" y="1084" font-size="19.1" fill="#131722" textLength="39.4" lengthAdjust="spacingAndGlyphs" font-weight="bold" text-anchor="middle" stroke="#131722" stroke-width="0.25" >May</text>
<text x="651.5" y="1084" font-size="19.1" fill="#131722" textLength="23.2" lengthAdjust="spacingAndGlyphs" text-anchor="middle" stroke="#131722" stroke-width="0.25" >14</text>
<text x="854.5" y="1084" font-size="19.1" fill="#131722" textLength="36.0" lengthAdjust="spacingAndGlyphs" font-weight="bold" text-anchor="middle" stroke="#131722" stroke-width="0.25" >Jun</text>
<text x="985.5" y="1084" font-size="19.1" fill="#131722" textLength="23.2" lengthAdjust="spacingAndGlyphs" text-anchor="middle" stroke="#131722" stroke-width="0.25" >14</text>
<text x="1145.5" y="1084" font-size="19.1" fill="#131722" textLength="29.5" lengthAdjust="spacingAndGlyphs" font-weight="bold" text-anchor="middle" stroke="#131722" stroke-width="0.25" >Jul</text>
<text x="1276.5" y="1084" font-size="19.1" fill="#131722" textLength="23.8" lengthAdjust="spacingAndGlyphs" text-anchor="middle" stroke="#131722" stroke-width="0.25" >12</text>
<text x="1479.5" y="1084" font-size="19.1" fill="#131722" textLength="39.4" lengthAdjust="spacingAndGlyphs" font-weight="bold" text-anchor="middle" stroke="#131722" stroke-width="0.25" >Aug</text>
<text x="1610.5" y="1084" font-size="19.1" fill="#131722" textLength="23.2" lengthAdjust="spacingAndGlyphs" text-anchor="middle" stroke="#131722" stroke-width="0.25" >14</text>
<g transform="translate(16.03,1113.75) scale(0.879,0.873)" fill="#131722"><path d="M14 22H7V11H0V4h14v18zM28 22h-8l7.5-18h8L28 22z"/><circle cx="20" cy="8" r="4"/></g>
<text x="53.5" y="1133.6" font-size="20.5" fill="#131722" textLength="118.6" lengthAdjust="spacingAndGlyphs" stroke="#131722" stroke-width="0.3" >TradingView</text>
</svg></body></html>
